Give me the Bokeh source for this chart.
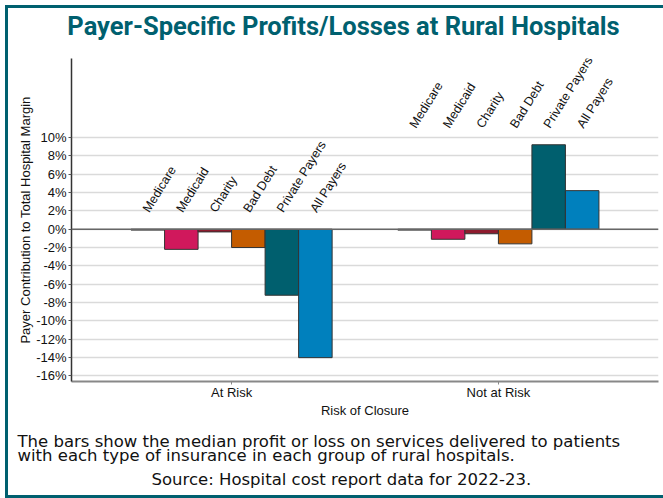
from bokeh.plotting import figure
from bokeh.models import FactorRange, Range1d, FixedTicker, Label, Span, ColumnDataSource
from bokeh.transform import dodge
from bokeh.core.properties import value
from bokeh.embed import file_html
from bokeh.resources import INLINE

# ---- data ----
groups = ["At Risk", "Not at Risk"]
payers = ["Medicare", "Medicaid", "Charity", "Bad Debt", "Private Payers", "All Payers"]
at_risk = [-0.1, -2.2, -0.3, -2.0, -7.2, -14.0]
not_at_risk = [-0.1, -1.1, -0.5, -1.6, 9.2, 4.2]
y_ticks = [-16, -14, -12, -10, -8, -6, -4, -2, 0, 2, 4, 6, 8, 10]
title_text = "Payer-Specific Profits/Losses at Rural Hospitals"
caption1 = "The bars show the median profit or loss on services delivered to patients"
caption2 = "with each type of insurance in each group of rural hospitals."
source_text = "Source:  Hospital cost report data for 2022-23."

# ---- styles ----
colors = ["#222222", "#D0185C", "#8E1B2E", "#C45C00", "#005F6E", "#0080BD"]
TEAL = "#00606F"
FONT = "Liberation Sans"
CAP_FONT = "DejaVu Sans"
W, H = 658, 493
bar_w = 0.1256

p = figure(width=W, height=H, output_backend="svg", toolbar_location=None,
           x_range=FactorRange(*groups, range_padding=0.1, range_padding_units="absolute"),
           y_range=Range1d(-16.6, 18.6),
           min_border_left=63, min_border_right=8, min_border_top=50, min_border_bottom=120)
p.styles = {"margin-left": "5px", "margin-top": "5px",
            "border-left": f"3px solid {TEAL}", "border-top": f"3px solid {TEAL}",
            "border-bottom": f"3px solid {TEAL}"}
p.outline_line_color = None
p.background_fill_color = "white"
p.border_fill_color = "white"

group_max = [max(0, max(at_risk)), max(0, max(not_at_risk))]
for i, name in enumerate(payers):
    off = (i - 2.5) * bar_w
    src = ColumnDataSource(dict(group=groups, val=[at_risk[i], not_at_risk[i]],
                                ly=group_max, txt=[name, name]))
    p.vbar(x=dodge("group", off, range=p.x_range), top="val", bottom=0, width=bar_w,
           source=src, fill_color=colors[i], line_color="#333333", line_width=1)
    p.text(x=dodge("group", off, range=p.x_range), y="ly", text="txt", source=src,
           angle=58, angle_units="deg", x_offset=-2, y_offset=-18,
           text_align="left", text_baseline="middle",
           text_font=value(FONT), text_font_size="12.5px", text_color="#111111")

p.add_layout(Span(location=0, dimension="width", line_color="#666666", line_width=1.5))

# axes
p.yaxis.ticker = FixedTicker(ticks=y_ticks)
p.yaxis.major_label_overrides = {t: f"{t}%" for t in y_ticks}
p.yaxis.minor_tick_line_color = None
p.yaxis.major_tick_in = 0
p.yaxis.major_tick_out = 3
p.yaxis.axis_line_color = "#333333"
p.yaxis.axis_line_width = 1.5
p.yaxis.major_tick_line_color = "#555555"
p.yaxis.major_label_text_font = FONT
p.yaxis.major_label_text_font_size = "13px"
p.yaxis.major_label_text_color = "#111111"
p.yaxis.major_label_standoff = 2
p.yaxis.axis_label = "Payer Contribution to Total Hospital Margin"
p.yaxis.axis_label_text_font = FONT
p.yaxis.axis_label_text_font_size = "13px"
p.yaxis.axis_label_text_font_style = "normal"
p.yaxis.axis_label_text_color = "#111111"
p.yaxis.axis_label_standoff = 0

p.xaxis.axis_line_color = "#888888"
p.xaxis.axis_line_width = 2
p.xaxis.major_tick_in = 0
p.xaxis.major_tick_out = 3
p.xaxis.major_tick_line_color = "#888888"
p.xaxis.major_label_text_font = FONT
p.xaxis.major_label_text_font_size = "13px"
p.xaxis.major_label_text_color = "#111111"
p.xaxis.major_label_standoff = 0
p.xaxis.axis_label = "Risk of Closure"
p.xaxis.axis_label_text_font = FONT
p.xaxis.axis_label_text_font_size = "13px"
p.xaxis.axis_label_text_font_style = "normal"
p.xaxis.axis_label_text_color = "#111111"
p.xaxis.axis_label_standoff = 0

p.xgrid.visible = False
p.ygrid.ticker = FixedTicker(ticks=y_ticks)
p.ygrid.grid_line_color = "#DADADA"
p.ygrid.grid_line_width = 1.5

# texts (canvas units, placed in side panels so that they are not clipped to the frame)
p.add_layout(Label(x=332, y=14, x_units="canvas", y_units="canvas", text=title_text,
                   text_align="center", text_baseline="alphabetic",
                   text_font="Roboto", text_font_style="bold",
                   text_font_size="25.5px", text_color=TEAL), "above")
p.add_layout(Label(x=6, y=429.5, x_units="canvas", y_units="canvas", text=caption1,
                   text_align="left", text_baseline="alphabetic",
                   text_font=CAP_FONT, text_font_size="16.5px", text_color="#111111"), "below")
p.add_layout(Label(x=6, y=443.5, x_units="canvas", y_units="canvas", text=caption2,
                   text_align="left", text_baseline="alphabetic",
                   text_font=CAP_FONT, text_font_size="16.5px", text_color="#111111"), "below")
p.add_layout(Label(x=332.5, y=468, x_units="canvas", y_units="canvas", text=source_text,
                   text_align="center", text_baseline="alphabetic",
                   text_font=CAP_FONT, text_font_size="16.5px", text_color="#111111"), "below")

open("out.html", "w").write(file_html(p, INLINE))
